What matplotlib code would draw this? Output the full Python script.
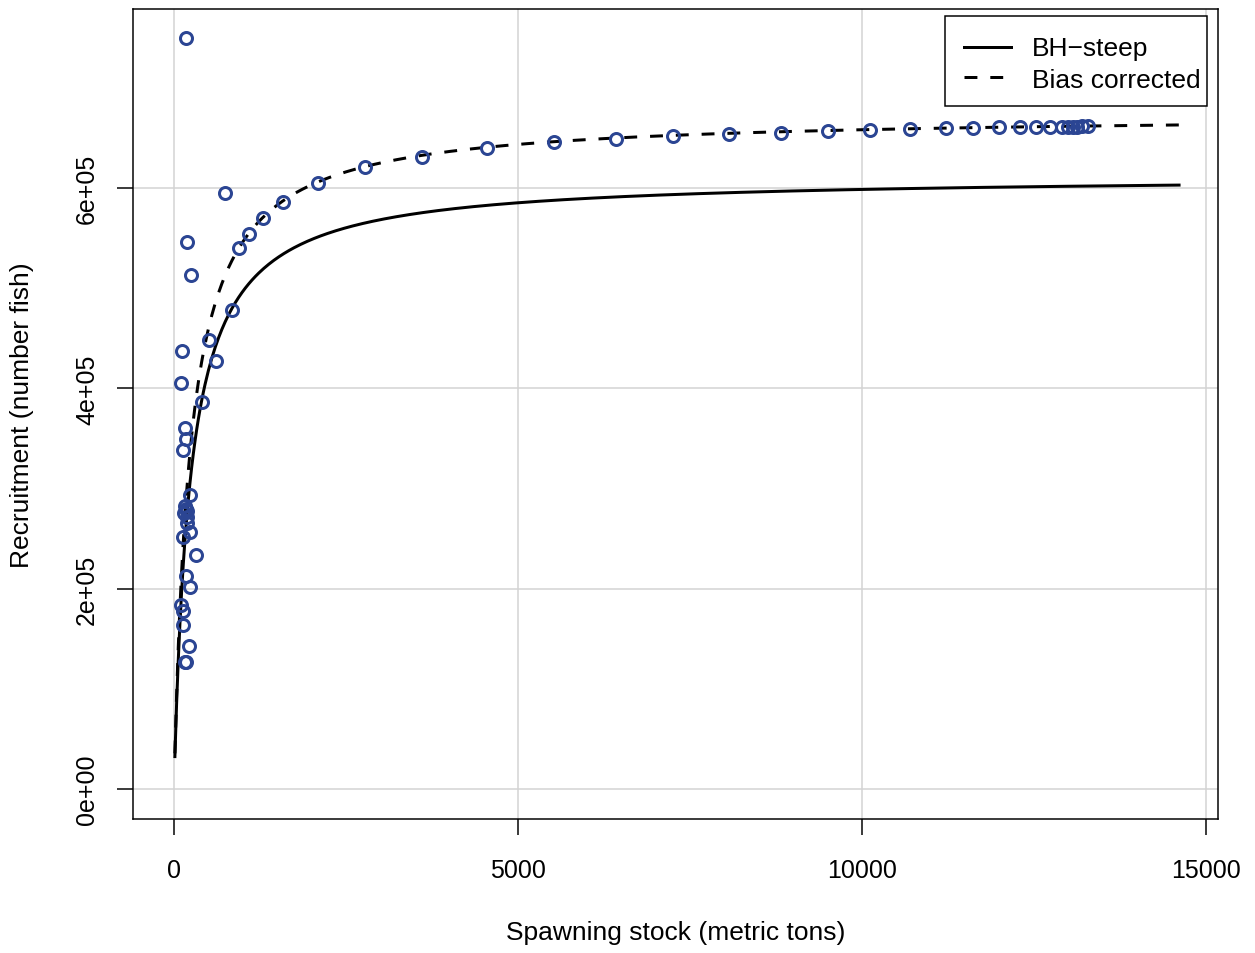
import numpy as np
import matplotlib
matplotlib.use("Agg")
import matplotlib.pyplot as plt
from matplotlib.lines import Line2D
from matplotlib.patches import Rectangle

plt.rcParams['font.family'] = ['Liberation Sans', 'DejaVu Sans']

# Beverton-Holt fit, R = a*S/(b+S)
bh_a = 6.126e5
bh_b = 233.0
bias_a = 6.736e5          # bias corrected asymptote
s_min, s_max = 13.0, 14608.0

# observed stock / recruitment pairs
stock = [170, 741, 194, 247, 950, 1095, 1289, 1589, 2093, 2776,
         838, 504, 121, 610, 107, 402, 160, 170, 126, 233,
         160, 175, 185, 150, 195, 184, 233, 136, 320, 174,
         233, 97, 126, 126, 218, 155, 168,
         3600, 4545, 5523, 6424, 7257, 8072, 8823, 9510, 10116,
         10698, 11214, 11618, 11996, 12297, 12529, 12733, 12903,
         12990, 13060, 13130, 13200, 13289]
recruits = [7.496e5, 5.948e5, 5.459e5, 5.133e5, 5.399e5, 5.542e5, 5.698e5, 5.864e5, 6.051e5, 6.21e5,
            4.786e5, 4.484e5, 4.371e5, 4.277e5, 4.054e5, 3.867e5, 3.602e5, 3.495e5, 3.388e5, 2.936e5,
            2.83e5, 2.80e5, 2.78e5, 2.76e5, 2.72e5, 2.656e5, 2.563e5, 2.513e5, 2.336e5, 2.13e5,
            2.02e5, 1.84e5, 1.78e5, 1.638e5, 1.425e5, 1.271e5, 1.271e5,
            6.31e5, 6.40e5, 6.46e5, 6.49e5, 6.52e5, 6.54e5, 6.55e5, 6.574e5, 6.584e5,
            6.592e5, 6.598e5, 6.602e5, 6.605e5, 6.608e5, 6.61e5, 6.611e5, 6.613e5,
            6.613e5, 6.614e5, 6.614e5, 6.615e5, 6.615e5]

xticks = [0, 5000, 10000, 15000]
yticks = [0, 2e5, 4e5, 6e5]
ytick_labels = ["0e+00", "2e+05", "4e+05", "6e+05"]
legend_labels = ["BH\u2212steep", "Bias corrected"]

W, H = 1255, 954
pt = 0.72  # one pixel at dpi 100, in points
dash = (0, (4.3, 4.3))

def fx(px):
    return px / W

def fy(py):
    return 1 - py / H

fig = plt.figure(figsize=(W / 100, H / 100), dpi=100)
ax = fig.add_axes([fx(133), fy(820), (1218 - 133) / W, (820 - 10) / H])

s = np.linspace(s_min, s_max, 600)
ax.plot(s, bh_a * s / (bh_b + s), color='black', lw=3 * pt, zorder=3)
ax.plot(s, bias_a * s / (bh_b + s), color='black', lw=3 * pt, linestyle=dash, zorder=3)

ax.plot(stock, recruits, linestyle='none', marker='o', markersize=12 * pt,
        markerfacecolor='none', markeredgecolor='#2B4593', markeredgewidth=3 * pt,
        zorder=4)

ax.set_xlim(-596, 15174)
ax.set_ylim(-2.995e4, 7.788e5)
ax.set_xticks(xticks)
ax.set_yticks(yticks)
ax.set_yticklabels(ytick_labels, rotation=90, va='center')
ax.grid(True, color='#D3D3D3', lw=1.5 * pt)
ax.set_axisbelow(True)
for sp in ax.spines.values():
    sp.set_linewidth(1.5 * pt)
ax.tick_params(length=16 * pt, width=1.5 * pt, labelsize=18)
ax.tick_params(axis='x', pad=23 * pt)
ax.tick_params(axis='y', pad=18 * pt)

ax.set_xlabel("Spawning stock (metric tons)", fontsize=19)
ax.set_ylabel("Recruitment (number fish)", fontsize=19)
ax.xaxis.set_label_coords(0.5, -(933 - 820) / 810, transform=ax.transAxes)
ax.yaxis.set_label_coords(-(133 - 22) / 1085, 0.5, transform=ax.transAxes)
ax.xaxis.label.set_va('center')
ax.yaxis.label.set_va('center')

# legend box drawn by hand, R style (tight on the right)
fig.add_artist(Rectangle((fx(945), fy(107)), (1207 - 945) / W, (107 - 17) / H,
                         transform=fig.transFigure, facecolor='white',
                         edgecolor='black', lw=1.5 * pt, zorder=5))
for label, style, ly, base in zip(legend_labels, ['-', dash], [47.5, 78.3], [55.7, 87.5]):
    fig.add_artist(Line2D([fx(964), fx(1011)], [fy(ly), fy(ly)], transform=fig.transFigure,
                          color='black', lw=3 * pt, linestyle=style, zorder=6))
    fig.text(fx(1032), fy(base), label, fontsize=19, ha='left', va='baseline', zorder=6)

fig.savefig("out.png", dpi=100)
